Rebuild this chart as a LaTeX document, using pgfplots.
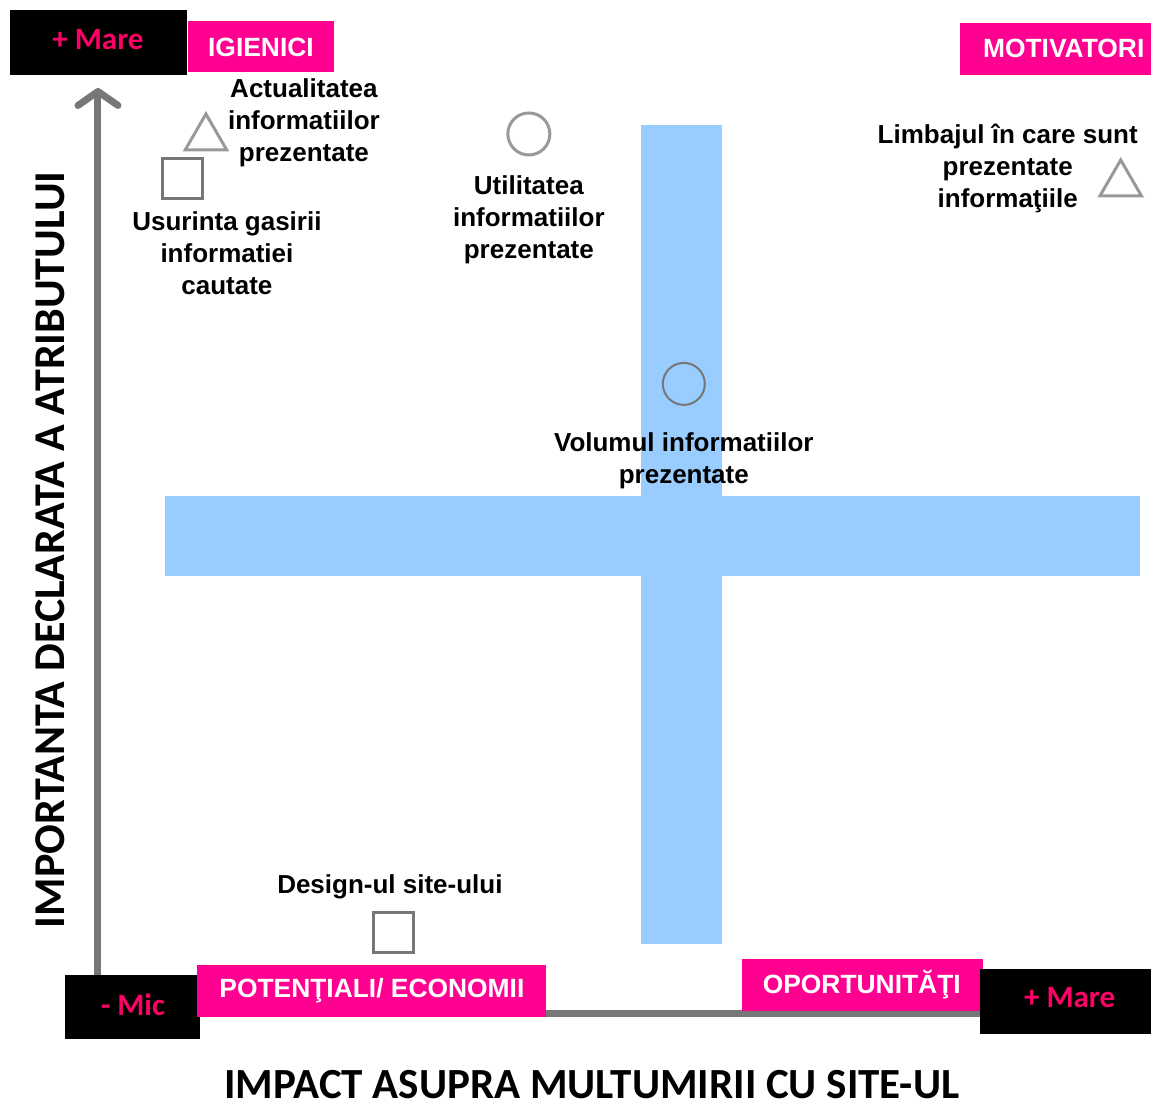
\documentclass[border=0pt]{standalone}
\usepackage{fontspec}
\setmainfont{Liberation Sans}
\newfontfamily\calibri{Carlito}
\usepackage{pgfplots}
\pgfplotsset{compat=1.18}
\usetikzlibrary{arrows.meta}
\definecolor{pinkbox}{HTML}{FF0090}
\definecolor{pinktxt}{HTML}{FF0066}
\definecolor{crossblue}{HTML}{99CCFF}
\definecolor{axgray}{HTML}{777777}
\definecolor{mkgray}{HTML}{999999}
\tikzset{
  lbl/.style={font=\bfseries\fontsize{13}{16}\selectfont, align=center},
  box/.style={font=\bfseries\fontsize{13.2}{15}\selectfont, text=white},
  big/.style={font=\calibri\bfseries\fontsize{15.5}{18}\selectfont, text=pinktxt},
}

\begin{document}
\begin{tikzpicture}
\begin{axis}[
  width=575.5pt, height=553pt, scale only axis,
  xmin=0, xmax=1151, ymin=0, ymax=1106, y dir=reverse,
  axis lines=none, clip=false,
]
% fix the page to the full frame
\path (0,0) rectangle (1151,1106);

% blue cross
\fill[crossblue] (641,125) rectangle (722,944);
\fill[crossblue] (165,496) rectangle (1140,576);

% axes lines
\draw[axgray, line width=3.5pt] (98,1014) -- (980,1014);
\draw[axgray, line width=3.5pt, -{Straight Barb[length=7pt,width=20pt,round]}] (98,1000) -- (98,88);

% corner boxes
\fill[black] (10,10) rectangle (187,75);
\node[big] at (98,40) {+ Mare};
\fill[pinkbox] (188,21) rectangle (334,72);
\node[box] at (261,47) {IGIENICI};
\fill[pinkbox] (960,23) rectangle (1151,75);
\node[box] at (1064,48) {MOTIVATORI};
\fill[black] (65,975) rectangle (200,1039);
\node[big] at (133,1005) {- Mic};
\fill[pinkbox] (197,965) rectangle (546,1017);
\node[box] at (372,991) {POTENŢIALI/ ECONOMII};
\fill[pinkbox] (742,959) rectangle (983,1011);
\node[box] at (862,985) {OPORTUNITĂŢI};
\fill[black] (980,969) rectangle (1151,1034);
\node[big] at (1070,998) {+ Mare};

% attributes
\addplot[only marks, mark=triangle, mark size=12pt,
  mark options={draw=mkgray, line width=1.5pt, fill=none}]
  coordinates {(206,138) (1121,184)};
\addplot[only marks, mark=square, mark size=10pt,
  mark options={draw=axgray, line width=1.5pt, fill=none}]
  coordinates {(183,179) (394,933)};
\addplot[only marks, mark=o, mark size=10.5pt,
  mark options={draw=mkgray, line width=1.5pt}]
  coordinates {(529,134)};
\addplot[only marks, mark=o, mark size=10.5pt,
  mark options={draw=axgray, line width=1pt}]
  coordinates {(684,384)};

% labels
\node[lbl] at (304,123) {Actualitatea\\informatiilor\\prezentate};
\node[lbl] at (227,253) {Usurinta gasirii\\informatiei\\cautate};
\node[lbl] at (529,220) {Utilitatea\\informatiilor\\prezentate};
\node[lbl] at (1008,169) {Limbajul în care sunt\\prezentate\\informaţiile};
\node[lbl] at (684,461) {Volumul informatiilor\\prezentate};
\node[lbl] at (390,887) {Design-ul site-ului};

% axis titles
\node[font=\calibri\bfseries\fontsize{22}{24}\selectfont, rotate=90] at (50,550) {IMPORTANTA DECLARATA A ATRIBUTULUI};
\node[font=\calibri\bfseries\fontsize{21.5}{24}\selectfont, anchor=base, inner sep=0pt] at (592,1099) {IMPACT ASUPRA MULTUMIRII CU SITE-UL};
\end{axis}
\end{tikzpicture}
\end{document}
